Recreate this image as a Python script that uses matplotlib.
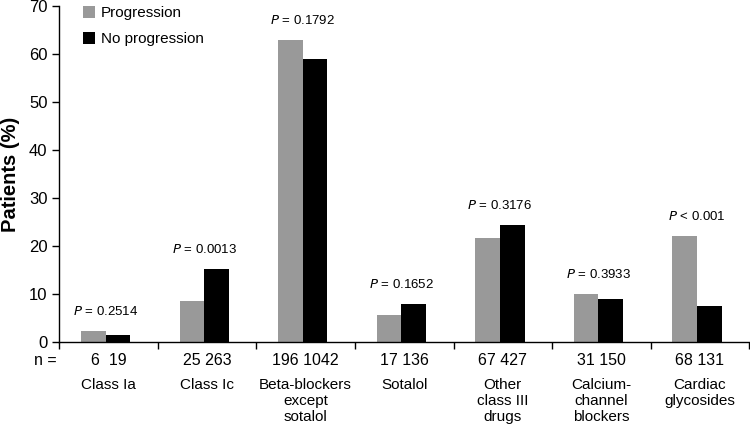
import matplotlib
matplotlib.use("Agg")
import matplotlib.pyplot as plt
import numpy as np

plt.rcParams['font.family'] = ['Liberation Sans', 'DejaVu Sans']

# data
categories = ['Class Ia', 'Class Ic', 'Beta-blockers\nexcept\nsotalol', 'Sotalol',
              'Other\nclass III\ndrugs', 'Calcium-\nchannel\nblockers', 'Cardiac\nglycosides']
progression = [2.35, 8.5, 63.0, 5.7, 21.7, 10.1, 22.1]
no_progression = [1.4, 15.2, 59.0, 7.9, 24.4, 8.9, 7.6]
n_prog = [6, 25, 196, 17, 67, 31, 68]
n_noprog = [19, 263, 1042, 136, 427, 150, 131]
p_labels = ['= 0.2514', '= 0.0013', '= 0.1792', '= 0.1652', '= 0.3176', '= 0.3933', '< 0.001']

grey = '#999999'
bar_w = 0.25
shift = -0.03

fig = plt.figure(figsize=(7.5, 4.25), dpi=100)
ax = fig.add_axes([0.079, 0.195, 0.92, 0.791])

x = np.arange(len(categories)) + 0.5 + shift
ax.bar(x - bar_w / 2, progression, bar_w, color=grey, label='Progression')
ax.bar(x + bar_w / 2, no_progression, bar_w, color='black', label='No progression')

# P values above each pair
for i in range(len(categories)):
    top = max(progression[i], no_progression[i])
    ax.text(x[i], top + 4.0, '$P$ ' + p_labels[i], ha='center', va='center', fontsize=9.5)

# n counts and category names under the axis
for i in range(len(categories)):
    sep = '  ' if n_prog[i] < 10 else ' '
    ax.annotate('%d%s%d' % (n_prog[i], sep, n_noprog[i]),
                xy=(i + 0.5, 0), xycoords=('data', 'axes fraction'),
                xytext=(0, -13), textcoords='offset points',
                ha='center', va='center', fontsize=11.5)
    ax.annotate(categories[i], xy=(i + 0.5, 0), xycoords=('data', 'axes fraction'),
                xytext=(0, -25.5), textcoords='offset points',
                ha='center', va='top', fontsize=11, linespacing=1.2)
ax.annotate('n =', xy=(0, 0), xycoords='axes fraction', xytext=(-2, -13),
            textcoords='offset points', ha='right', va='center', fontsize=11.5)

ax.set_xlim(0, len(categories))
ax.set_ylim(0, 70)
ax.set_xticks(np.arange(len(categories) + 1))
ax.set_xticklabels([])
ax.set_yticks(range(0, 71, 10))
ax.tick_params(axis='x', direction='out', length=5, width=1)
ax.tick_params(axis='y', direction='out', length=5, width=1, labelsize=12)
for side in ['top', 'right']:
    ax.spines[side].set_visible(False)
for side in ['left', 'bottom']:
    ax.spines[side].set_linewidth(1)
ax.set_ylabel('Patients (%)', fontsize=14.5, fontweight='bold', labelpad=6)

ax.legend(loc='upper left', bbox_to_anchor=(0.014, 1.04), frameon=False, fontsize=11,
          handlelength=0.8, handleheight=0.8, handletextpad=0.4, labelspacing=0.75)

fig.savefig('out.png', dpi=100)
